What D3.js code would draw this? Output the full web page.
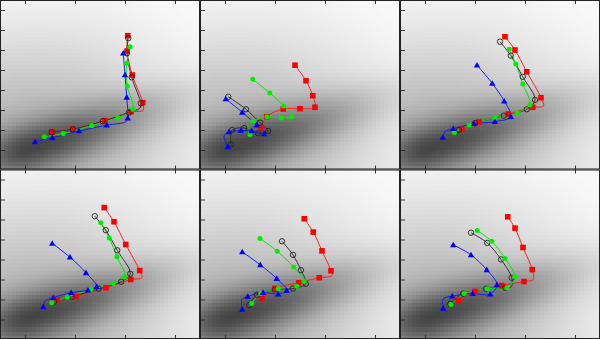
<!DOCTYPE html>
<html>
<head>
<meta charset="utf-8">
<script src="https://cdn.jsdelivr.net/npm/d3@7"></script>
<style>
  body { margin: 0; background: #fff; }
  svg { display: block; }
</style>
</head>
<body>
<svg id="chart" width="600" height="339"></svg>
<script>
// axes
const xDomain = [-4, 4];
const yDomain = [-4, 4.5];
const xTicks = [-3, -1, 1, 3];
const yTicks = [-3, -2, -1, 0, 1, 2, 3, 4];

// surface (same in every panel)
const valleyCenter = [-2.8, -2.9];
const valleyAngle = 22; // degrees
const gridCols = 50, gridRows = 42;

// optimizer paths, one entry per panel; a 0 in third place = path vertex without marker
const redPaths = [
  [[1.11,2.71],[1.08,1.94],[1.29,0.74],[1.71,-0.65],[1.72,-1.04,0],[1.24,-1.10],[0.20,-1.55],[-1.09,-1.98],[-1.91,-2.13]],
  [[-0.20,1.23],[0.24,0.45],[0.51,-0.30],[0.60,-0.88],[0.00,-0.95],[-0.67,-0.97],[-1.33,-1.35],[-1.55,-1.90]],
  [[0.20,2.66],[0.60,1.99],[1.07,0.90],[1.64,-0.40],[1.74,-0.82,0],[1.31,-0.88],[0.33,-1.22],[-0.84,-1.62],[-1.53,-1.98]],
  [[0.17,2.59],[0.56,1.88],[1.03,0.74],[1.59,-0.57],[1.68,-0.92,0],[1.23,-1.02],[0.24,-1.43],[-0.96,-1.87],[-1.71,-2.05]],
  [[0.17,2.03],[0.53,1.36],[0.88,0.42],[1.24,-0.58],[1.28,-0.82,0],[0.77,-0.93],[-0.05,-1.18],[-1.00,-1.47],[-1.53,-1.97]],
  [[0.31,2.13],[0.60,1.56],[0.92,0.59],[1.29,-0.52],[1.33,-1.02,0],[0.96,-1.12],[0.07,-1.32],[-1.01,-1.62],[-1.67,-2.07]]
];
const blackPaths = [
  [[1.13,2.58],[1.08,1.83],[1.27,0.62],[1.63,-0.68],[1.60,-0.92,0],[1.16,-1.15],[0.11,-1.58],[-1.09,-1.98],[-1.93,-2.13]],
  [[-2.87,-0.35],[-2.16,-0.98],[-1.60,-1.65],[-1.27,-2.07],[-1.67,-2.18],[-2.23,-1.92],[-2.71,-2.02],[-2.76,-2.74]],
  [[0.00,2.41],[0.43,1.71],[0.91,0.65],[1.40,-0.51],[1.07,-0.98],[0.15,-1.30],[-1.00,-1.68],[-1.64,-2.02]],
  [[-0.21,2.16],[0.23,1.46],[0.69,0.45],[1.21,-0.73],[0.85,-1.13],[-0.05,-1.48],[-1.13,-1.88],[-1.83,-2.12]],
  [[-0.72,0.90],[-0.28,0.22],[0.04,-0.55],[0.23,-1.23],[-0.28,-1.47],[-1.01,-1.52],[-1.72,-1.78],[-2.03,-2.29]],
  [[-1.16,1.33],[-0.51,0.82],[0.04,-0.01],[0.47,-0.93],[0.45,-1.38,0],[0.21,-1.43],[-0.55,-1.48],[-1.47,-1.72],[-1.99,-2.23]]
];
const greenPaths = [
  [[1.20,2.16],[1.07,1.33],[1.09,0.19],[1.31,-0.98],[0.71,-1.40],[-0.33,-1.80],[-1.47,-2.20],[-2.23,-2.36]],
  [[-1.89,0.52],[-1.21,-0.16],[-0.65,-0.82],[-0.33,-1.35],[-0.75,-1.42],[-1.32,-1.35],[-1.87,-1.57],[-2.08,-1.82,0],[-2.00,-2.25]],
  [[0.37,2.03],[0.63,1.29],[0.91,0.29],[1.20,-0.77],[0.69,-1.15],[-0.20,-1.40],[-1.23,-1.77],[-1.83,-2.15]],
  [[0.03,1.83],[0.37,1.06],[0.68,0.12],[0.99,-0.88],[0.53,-1.22],[-0.36,-1.52],[-1.31,-1.90],[-1.93,-2.18]],
  [[-1.60,1.04],[-0.91,0.40],[-0.25,-0.40],[0.17,-1.10],[-0.13,-1.35],[-0.87,-1.47],[-1.57,-1.72],[-1.93,-2.22]],
  [[-0.91,1.44],[-0.33,0.90],[0.20,0.04],[0.59,-0.88],[0.29,-1.42],[-0.51,-1.48],[-1.43,-1.72],[-1.96,-2.27]]
];
const bluePaths = [
  [[0.93,1.83],[1.00,0.74],[1.07,-0.38],[1.11,-1.43],[1.04,-1.60,0],[0.27,-1.78],[-0.84,-2.07],[-1.91,-2.41],[-2.60,-2.61]],
  [[-2.97,-0.46],[-2.31,-1.13],[-1.73,-1.77],[-1.43,-2.22],[-1.93,-2.07],[-2.37,-2.05],[-2.84,-2.12],[-3.04,-2.32,0],[-2.89,-2.86]],
  [[-0.92,1.23],[-0.31,0.32],[0.17,-0.57],[0.43,-1.35],[-0.20,-1.60],[-1.03,-1.70],[-1.87,-1.95],[-2.20,-2.10,0],[-2.29,-2.39]],
  [[-1.91,0.79],[-1.20,0.10],[-0.56,-0.68],[-0.13,-1.38],[-0.48,-1.55],[-1.15,-1.68],[-1.87,-1.93],[-2.20,-2.10,0],[-2.27,-2.39]],
  [[-2.31,0.37],[-1.59,-0.28],[-0.93,-0.97],[-0.53,-1.57],[-0.87,-1.75],[-1.48,-1.67],[-2.09,-1.87],[-2.32,-2.02,0],[-2.31,-2.52]],
  [[-1.87,0.72],[-1.16,0.22],[-0.53,-0.53],[-0.12,-1.28],[-0.39,-1.75],[-1.09,-1.72],[-1.91,-1.85],[-2.28,-2.00,0],[-2.27,-2.47]]
];

const panelW = 200, panelH = 169.5, nCols = 3;

const svg = d3.select("#chart");

const x = d3.scaleLinear().domain(xDomain).range([0, panelW]);
const y = d3.scaleLinear().domain(yDomain).range([panelH, 0]);

// darkness of the surface at (px, py) in data units
const ang = valleyAngle * Math.PI / 180;
function surface(px, py) {
  const dx = px - valleyCenter[0], dy = py - valleyCenter[1];
  const u = dx * Math.cos(ang) + dy * Math.sin(ang);
  const v = -dx * Math.sin(ang) + dy * Math.cos(ang);
  const su1 = u < 0 ? 1.6 : 4.0, su2 = u < 0 ? 2.5 : 4.3;
  return 0.42 * Math.exp(-u * u / (2 * su1 * su1) - v * v / (2 * 0.85 * 0.85))
       + 0.31 * Math.exp(-u * u / (2 * su2 * su2) - v * v / (2 * 4.0 * 4.0));
}

const cw = (xDomain[1] - xDomain[0]) / gridCols;
const ch = (yDomain[1] - yDomain[0]) / gridRows;
const cells = [];
for (let i = 0; i < gridCols; i++) {
  for (let j = 0; j < gridRows; j++) {
    const x0 = xDomain[0] + i * cw, y0 = yDomain[0] + j * ch;
    cells.push({x0, y0, d: surface(x0 + cw / 2, y0 + ch / 2)});
  }
}
const gray = d => { const g = Math.round(255 * (1 - d)); return `rgb(${g},${g},${g})`; };

const series = [
  {paths: redPaths, color: "#ff2020", marker: "square"},
  {paths: blackPaths, color: "#333", marker: "ring"},
  {paths: greenPaths, color: "#00e600", marker: "dot"},
  {paths: bluePaths, color: "#1a1aff", marker: "triangle"}
];

const line = d3.line()
  .x(d => x(d[0]))
  .y(d => y(d[1]))
  .curve(d3.curveCatmullRom.alpha(0.5));

for (let p = 0; p < 6; p++) {
  const col = p % nCols, row = Math.floor(p / nCols);
  const g = svg.append("g")
    .attr("transform", `translate(${col * panelW},${row * panelH})`);

  g.append("clipPath").attr("id", "clip" + p)
    .append("rect").attr("width", panelW).attr("height", panelH);

  const inner = g.append("g").attr("clip-path", `url(#clip${p})`);

  inner.append("g")
    .attr("shape-rendering", "crispEdges")
    .selectAll("rect")
    .data(cells)
    .join("rect")
      .attr("x", d => x(d.x0))
      .attr("y", d => y(d.y0 + ch))
      .attr("width", x(cw) - x(0) + 0.6)
      .attr("height", y(0) - y(ch) + 0.6)
      .attr("fill", d => gray(d.d));

  // lines
  series.forEach(s => {
    inner.append("path")
      .datum(s.paths[p])
      .attr("fill", "none")
      .attr("stroke", s.color)
      .attr("stroke-width", 1)
      .attr("d", line);
  });

  // markers
  series.forEach(s => {
    const pts = s.paths[p].filter(d => d[2] !== 0);
    const mg = inner.append("g");
    if (s.marker === "square") {
      mg.selectAll("rect").data(pts).join("rect")
        .attr("x", d => x(d[0]) - 2.8).attr("y", d => y(d[1]) - 2.8)
        .attr("width", 5.6).attr("height", 5.6)
        .attr("fill", "#ff0000");
    } else if (s.marker === "ring") {
      mg.selectAll("circle").data(pts).join("circle")
        .attr("cx", d => x(d[0])).attr("cy", d => y(d[1])).attr("r", 2.7)
        .attr("fill", "none").attr("stroke", "#222").attr("stroke-width", 0.9);
    } else if (s.marker === "dot") {
      mg.selectAll("circle").data(pts).join("circle")
        .attr("cx", d => x(d[0])).attr("cy", d => y(d[1])).attr("r", 2.5)
        .attr("fill", "#00ee00");
    } else {
      mg.selectAll("path").data(pts).join("path")
        .attr("transform", d => `translate(${x(d[0])},${y(d[1]) + 0.5})`)
        .attr("d", d3.symbol(d3.symbolTriangle, 18))
        .attr("fill", "#0000ff");
    }
  });

  // ticks
  const tk = g.append("g").attr("stroke", "#333").attr("stroke-width", 1);
  tk.selectAll(".xt").data(xTicks).join("line")
    .attr("x1", d => Math.round(x(d)) + 0.5).attr("x2", d => Math.round(x(d)) + 0.5)
    .attr("y1", 0).attr("y2", 4);
  tk.selectAll(".xb").data(xTicks).join("line")
    .attr("x1", d => Math.round(x(d)) + 0.5).attr("x2", d => Math.round(x(d)) + 0.5)
    .attr("y1", panelH).attr("y2", panelH - 4);
  tk.selectAll(".yl").data(yTicks).join("line")
    .attr("x1", 0).attr("x2", 5)
    .attr("y1", d => Math.round(y(d)) + 0.5).attr("y2", d => Math.round(y(d)) + 0.5);

  g.append("rect")
    .attr("x", 0.5).attr("y", 0.5)
    .attr("width", panelW - 1).attr("height", panelH - 1)
    .attr("fill", "none").attr("stroke", "#222").attr("stroke-width", 1);
}
</script>
</body>
</html>
